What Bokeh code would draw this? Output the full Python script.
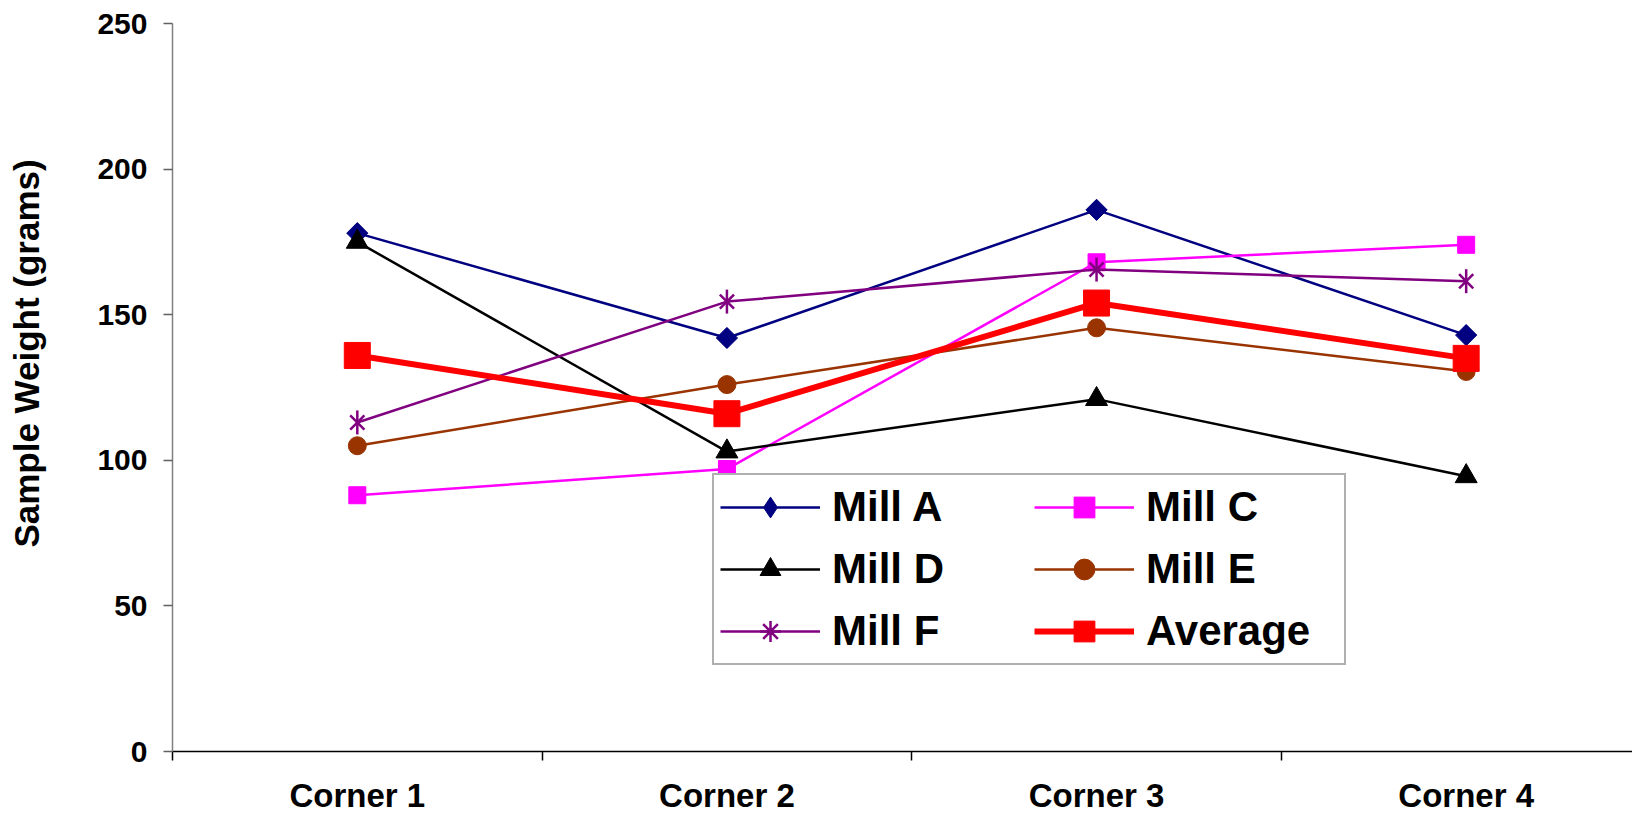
import math
from bokeh.plotting import figure
from bokeh.models import Range1d, FixedTicker, Legend, LegendItem, CustomJSTickFormatter, LinearAxis
from bokeh.embed import file_html
from bokeh.resources import INLINE

categories = ["Corner 1", "Corner 2", "Corner 3", "Corner 4"]
mill_a = [178, 142, 186, 143]
mill_c = [88, 97, 168, 174]
mill_d = [175, 103, 121, 94.5]
mill_e = [105, 126, 145.5, 130.5]
mill_f = [113, 154.5, 165.5, 161.5]
average = [136, 116, 154, 135]
y_ticks = [0, 50, 100, 150, 200, 250]
y_title = "Sample Weight (grams)"

x = [i + 0.5 for i in range(len(categories))]
bounds = [float(i) for i in range(len(categories) + 1)]

FONT = "Liberation Sans"

p = figure(width=1632, height=816, x_range=Range1d(0, 3.95), y_range=Range1d(0, 250),
           output_backend="svg", toolbar_location=None,
           min_border_left=172, min_border_right=0, min_border_top=23, min_border_bottom=64)
p.xgrid.visible = False
p.ygrid.visible = False
p.outline_line_color = None
p.background_fill_color = "white"

# x axis
xa = p.xaxis[0]
xa.ticker = FixedTicker(ticks=x, minor_ticks=bounds)
xa.formatter = CustomJSTickFormatter(args=dict(labels=categories),
                                     code="const i = Math.floor(tick); return labels[i] || '';")
xa.axis_line_color = "black"
xa.axis_line_width = 1.5
xa.major_tick_out = 0
xa.major_tick_in = 0
xa.major_tick_line_color = None
xa.minor_tick_out = 9
xa.minor_tick_in = 0
xa.minor_tick_line_color = "black"
xa.minor_tick_line_width = 1.5
xa.major_label_text_font = FONT
xa.major_label_text_font_style = "bold"
xa.major_label_text_font_size = "33px"
xa.major_label_text_color = "black"
xa.major_label_standoff = 16

# y axis
ya = p.yaxis[0]
ya.ticker = FixedTicker(ticks=y_ticks)
ya.axis_line_color = "#808080"
ya.axis_line_width = 1.5
ya.major_tick_out = 9
ya.major_tick_in = 0
ya.major_tick_line_color = "#606060"
ya.major_tick_line_width = 1.5
ya.minor_tick_line_color = None
ya.major_label_text_font = FONT
ya.major_label_text_font_style = "bold"
ya.major_label_text_font_size = "30px"
ya.major_label_text_color = "black"
ya.major_label_standoff = 16

# outer axis that only carries the title; leading no-break spaces lift the
# visible text a little above the frame centre, as in the original
ya2 = LinearAxis(ticker=FixedTicker(ticks=[]),
                 axis_line_color=None, major_tick_line_color=None, minor_tick_line_color=None,
                 major_tick_out=0, major_tick_in=0, minor_tick_out=0, minor_tick_in=0,
                 major_label_text_font_size="0px",
                 axis_label="\u00a0" * 7 + y_title, axis_label_standoff=49,
                 axis_label_text_font=FONT, axis_label_text_font_style="bold",
                 axis_label_text_font_size="35px", axis_label_text_color="black")
p.add_layout(ya2, "left")

NAVY = "#000080"
MAG = "#FF00FF"
BRN = "#993300"
PUR = "#800080"
RED = "#FF0000"

la = p.line(x, mill_a, line_color=NAVY, line_width=2.5)
ma_leg = p.scatter(x, mill_a, marker="diamond", size=20, fill_color=NAVY, line_color=NAVY)
ma = p.scatter(x, mill_a, marker="square", angle=math.pi / 4, size=15, fill_color=NAVY, line_color=NAVY)

lc = p.line(x, mill_c, line_color=MAG, line_width=2.5)
mc = p.scatter(x, mill_c, marker="square", size=17, fill_color=MAG, line_color=MAG)

ld = p.line(x, mill_d, line_color="black", line_width=2.5)
md = p.scatter(x, mill_d, marker="triangle", size=22, fill_color="black", line_color="black")

le = p.line(x, mill_e, line_color=BRN, line_width=2.5)
me = p.scatter(x, mill_e, marker="circle", size=18, fill_color=BRN, line_color=BRN)

lf = p.line(x, mill_f, line_color=PUR, line_width=2.5)
mf1 = p.scatter(x, mill_f, marker="x", size=20, line_color=PUR, line_width=2.5)
mf2 = p.scatter(x, mill_f, marker="dash", angle=math.pi / 2, size=24, line_color=PUR, line_width=2.5)
# legend-only proxy (no visible point)
mf_leg = p.scatter([math.nan], [math.nan], marker="asterisk", size=20, line_color=PUR, line_width=2.5)

lv = p.line(x, average, line_color=RED, line_width=6)
mv = p.scatter(x, average, marker="square", size=26, fill_color=RED, line_color=RED)

items = [
    LegendItem(label="Mill A", renderers=[la, ma_leg]),
    LegendItem(label="Mill C", renderers=[lc, mc]),
    LegendItem(label="Mill D", renderers=[ld, md]),
    LegendItem(label="Mill E", renderers=[le, me]),
    LegendItem(label="Mill F", renderers=[lf, mf_leg]),
    LegendItem(label="Average", renderers=[lv, mv]),
]
legend = Legend(items=items, orientation="horizontal", ncols=2, location=(540, 86),
                label_text_font=FONT, label_text_font_style="bold", label_text_font_size="42px",
                label_text_color="black",
                glyph_width=100, glyph_height=52, label_height=52, label_width=192,
                label_standoff=12, padding=6, spacing=10, margin=0,
                border_line_color="#606060", border_line_width=2,
                background_fill_color="white", background_fill_alpha=1.0)
p.add_layout(legend)

open("out.html", "w").write(file_html(p, INLINE))
